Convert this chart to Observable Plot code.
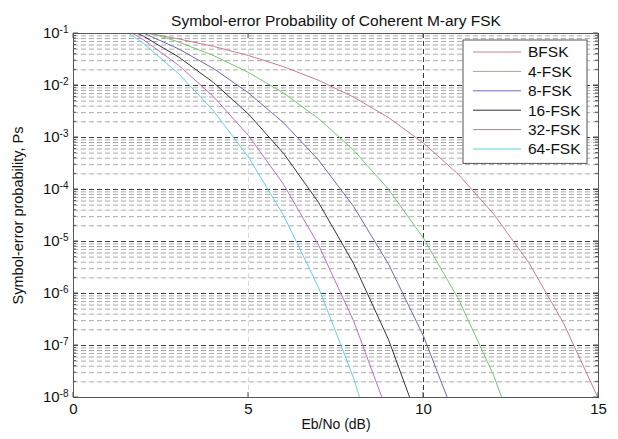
<!DOCTYPE html>
<html><head><meta charset="utf-8">
<script src="https://cdn.jsdelivr.net/npm/d3@7"></script>
<script src="https://cdn.jsdelivr.net/npm/@observablehq/plot@0.6"></script>
<style>
html,body{margin:0;padding:0;background:#fff;}
svg text{font-family:"Liberation Sans",Arial,sans-serif;}
</style>
</head><body><div id="chart"></div>
<script>
// ---- data ----
const titleText = "Symbol-error Probability of Coherent M-ary FSK";
const xLabel = "Eb/No (dB)";
const yLabel = "Symbol-error probability, Ps";
const seriesNames = ["BFSK","4-FSK","8-FSK","16-FSK","32-FSK","64-FSK"];
const seriesColors = ["#c97d8e","#74c874","#6c6cb6","#34343f","#c46cc8","#5ed6d8"];
const ebNoDb = [1,2,3,4,5,6,7,8,9,10,11,12,13,14,15];
const psBFSK  = [0.131,0.104,0.0789,0.0565,0.0377,0.0230,0.0126,0.0060,0.00242,7.8e-4,1.94e-4,3.4e-5,4.0e-6,2.7e-7,9.4e-9];
const ps4FSK  = [0.169,0.1126,0.0687,0.0376,0.01785,0.00716,2.32e-3,5.73e-4,1.01e-4,1.16e-5,7.8e-7,2.7e-8,4.0e-10];
const ps8FSK  = [0.182,0.102,0.0506,0.0212,0.0072,1.92e-3,3.69e-4,4.74e-5,3.68e-6,1.51e-7,2.77e-9];
const ps16FSK = [0.186,0.0885,0.0355,0.0114,2.82e-3,4.97e-4,5.65e-5,3.8e-6,1.3e-7,1.9e-9];
const ps32FSK = [0.188,0.0757,0.0246,6.1e-3,1.09e-3,1.26e-4,8.6e-6,3.0e-7,4.6e-9];
const ps64FSK = [0.189,0.0643,0.0170,3.26e-3,4.17e-4,3.2e-5,1.31e-6,2.4e-8,1.6e-10];
const xTicks = [0,5,10,15];
const yTicks = [1e-1,1e-2,1e-3,1e-4,1e-5,1e-6,1e-7,1e-8];
const yTickLabels = ["10^-1","10^-2","10^-3","10^-4","10^-5","10^-6","10^-7","10^-8"];
const minorMultipliers = [2,3,4,5,6,7,8,9];

// ---- build table ----
const allSeries = [psBFSK, ps4FSK, ps8FSK, ps16FSK, ps32FSK, ps64FSK];
const rows = [];
allSeries.forEach((vals, s) => vals.forEach((v, i) => rows.push({x: ebNoDb[i], y: v, series: seriesNames[s]})));
const minorGrid = [];
yTicks.slice(1).forEach(t => minorMultipliers.forEach(m => minorGrid.push(t * m)));

const dash = "5,3";
const plot = Plot.plot({
  width: 618, height: 439,
  marginLeft: 73, marginRight: 20, marginTop: 33, marginBottom: 42,
  style: {fontFamily: '"Liberation Sans", Arial, sans-serif', fontSize: "14px", color: "#111", background: "#fff"},
  x: {domain: [0, 15]},
  y: {type: "log", domain: [1e-8, 1e-1]},
  color: {domain: seriesNames, range: seriesColors},
  marks: [
    Plot.ruleY(minorGrid, {stroke: "#aaaaaa", strokeDasharray: dash}),
    Plot.ruleY(yTicks, {stroke: "#3a3a3a", strokeDasharray: dash}),
    Plot.ruleX([5], {stroke: "#d8d8d8", strokeDasharray: dash}),
    Plot.ruleX([10], {stroke: "#3a3a3a", strokeDasharray: dash}),
    Plot.line(rows, {x: "x", y: "y", z: "series", stroke: "series", strokeWidth: 1, clip: true}),
    Plot.frame({stroke: "#555"}),
    Plot.axisX({ticks: xTicks, tickSize: 0, tickPadding: 6, label: null, fontSize: 15}),
    Plot.axisY({ticks: yTicks, tickSize: 0, tickPadding: 5, label: null, fontSize: 15,
      tickFormat: (d) => yTickLabels[yTicks.findIndex(t => Math.abs(Math.log10(t) - Math.log10(d)) < 1e-6)]}),
    Plot.text([titleText], {frameAnchor: "top", dy: -19, fontSize: 15.5, fill: "#111"}),
    Plot.text([xLabel], {frameAnchor: "bottom", dy: 31, fontSize: 14, fill: "#111"}),
    Plot.text([yLabel], {frameAnchor: "left", dx: -55, rotate: -90, textAnchor: "middle", fontSize: 14.5, fill: "#111"})
  ]
});
document.getElementById("chart").appendChild(plot);

const svg = d3.select(plot);
// superscript exponents in y tick labels
svg.selectAll('g[aria-label="y-axis tick label"] text').each(function() {
  const t = this.textContent;
  const [base, exp] = t.split("^");
  const el = d3.select(this);
  el.text(null);
  el.append("tspan").text(base);
  el.append("tspan").attr("dy", "-0.5em").attr("font-size", 10).text(exp);
});

// inner tick marks (MATLAB style)
const xs = plot.scale("x"), ys = plot.scale("y");
const x0 = xs.apply(0), x1 = xs.apply(15), yTop = ys.apply(1e-1), yBot = ys.apply(1e-8);
const tg = svg.append("g").attr("stroke", "#555").attr("stroke-width", 1);
yTicks.forEach(t => { const y = ys.apply(t);
  tg.append("line").attr("x1", x0).attr("x2", x0 + 5).attr("y1", y).attr("y2", y);
  tg.append("line").attr("x1", x1).attr("x2", x1 - 5).attr("y1", y).attr("y2", y); });
minorGrid.forEach(t => { const y = ys.apply(t);
  tg.append("line").attr("x1", x0).attr("x2", x0 + 3).attr("y1", y).attr("y2", y);
  tg.append("line").attr("x1", x1).attr("x2", x1 - 3).attr("y1", y).attr("y2", y); });
xTicks.forEach(t => { const x = xs.apply(t);
  tg.append("line").attr("x1", x).attr("x2", x).attr("y1", yBot).attr("y2", yBot - 5);
  tg.append("line").attr("x1", x).attr("x2", x).attr("y1", yTop).attr("y2", yTop + 5); });

// legend box
const lg = svg.append("g");
const lx = 463, ly = 40, lw = 124, step = 19.4;
lg.append("rect").attr("x", lx).attr("y", ly).attr("width", lw).attr("height", step * seriesNames.length + 7)
  .attr("fill", "#fff").attr("stroke", "#555");
seriesNames.forEach((n, i) => {
  const y = ly + 12 + i * step;
  lg.append("line").attr("x1", lx + 10).attr("x2", lx + 58).attr("y1", y).attr("y2", y)
    .attr("stroke", seriesColors[i]).attr("stroke-width", 1);
  lg.append("text").attr("x", lx + 65).attr("y", y).attr("dy", "0.35em").attr("font-size", 15.5)
    .attr("text-anchor", "start").attr("fill", "#111").text(n);
});
</script>
</body></html>
